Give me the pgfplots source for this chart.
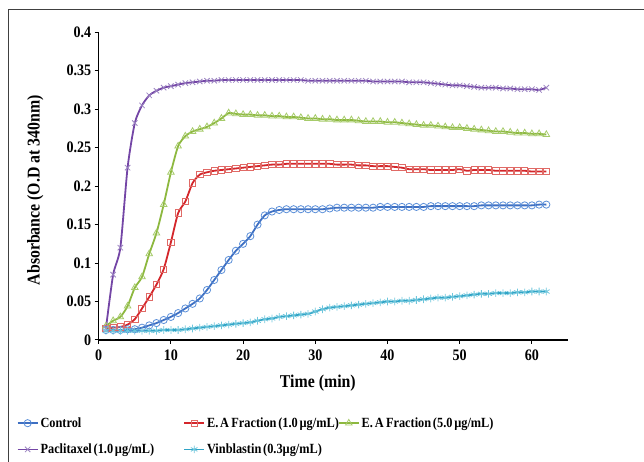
\documentclass[border=0pt]{standalone}
\usepackage{pgfplots}
\pgfplotsset{compat=1.18}
\usepackage{pgfplotstable}
\usepackage{fontspec}
\setmainfont{Liberation Serif}[FakeStretch=0.88]

\definecolor{cBl}{HTML}{3E6FC2}
\definecolor{cBlm}{HTML}{5B8FD8}
\definecolor{cRd}{HTML}{D4262B}
\definecolor{cRdm}{HTML}{E06A66}
\definecolor{cGr}{HTML}{8DB83F}
\definecolor{cGrm}{HTML}{A6CB6A}
\definecolor{cPu}{HTML}{7446A6}
\definecolor{cPum}{HTML}{9C84C2}
\definecolor{cCy}{HTML}{2FA3C6}
\definecolor{cCym}{HTML}{6EC6DC}

\newcommand\legfont{\bfseries\fontsize{14}{16}\selectfont\spaceskip=1.8pt\relax}

\pgfplotstableread{
x ctrl ea1 ea5 pac vin
1 0.013 0.015 0.018 0.015 0.012
2 0.013 0.016 0.025 0.085 0.012
3 0.013 0.017 0.030 0.120 0.012
4 0.014 0.020 0.044 0.224 0.012
5 0.014 0.027 0.068 0.282 0.012
6 0.016 0.041 0.082 0.305 0.012
7 0.019 0.056 0.112 0.318 0.012
8 0.022 0.072 0.139 0.324 0.012
9 0.026 0.092 0.176 0.328 0.013
10 0.030 0.127 0.218 0.330 0.013
11 0.035 0.165 0.252 0.332 0.013
12 0.041 0.180 0.265 0.334 0.014
13 0.047 0.204 0.271 0.335 0.015
14 0.054 0.215 0.274 0.336 0.016
15 0.065 0.218 0.277 0.337 0.017
16 0.078 0.220 0.282 0.337 0.018
17 0.091 0.221 0.288 0.338 0.019
18 0.104 0.222 0.295 0.338 0.020
19 0.116 0.223 0.294 0.338 0.021
20 0.125 0.224 0.293 0.338 0.022
21 0.135 0.225 0.293 0.338 0.023
22 0.150 0.226 0.292 0.338 0.025
23 0.162 0.227 0.292 0.338 0.027
24 0.167 0.228 0.291 0.338 0.028
25 0.169 0.228 0.291 0.338 0.030
26 0.170 0.229 0.290 0.338 0.031
27 0.170 0.229 0.290 0.338 0.032
28 0.170 0.229 0.289 0.338 0.033
29 0.170 0.229 0.288 0.337 0.034
30 0.170 0.229 0.288 0.337 0.037
31 0.170 0.229 0.287 0.337 0.040
32 0.171 0.229 0.287 0.337 0.042
33 0.172 0.228 0.286 0.337 0.043
34 0.172 0.228 0.286 0.337 0.044
35 0.172 0.228 0.286 0.337 0.045
36 0.172 0.227 0.285 0.337 0.046
37 0.172 0.227 0.284 0.337 0.047
38 0.172 0.226 0.284 0.336 0.048
39 0.173 0.226 0.284 0.336 0.049
40 0.173 0.226 0.283 0.336 0.050
41 0.173 0.225 0.283 0.336 0.050
42 0.173 0.224 0.282 0.336 0.051
43 0.173 0.222 0.281 0.335 0.051
44 0.173 0.222 0.280 0.335 0.052
45 0.173 0.222 0.279 0.335 0.053
46 0.174 0.221 0.279 0.334 0.054
47 0.174 0.221 0.278 0.333 0.055
48 0.174 0.221 0.277 0.332 0.055
49 0.174 0.221 0.276 0.331 0.056
50 0.174 0.222 0.276 0.331 0.057
51 0.174 0.220 0.275 0.330 0.058
52 0.174 0.221 0.274 0.329 0.059
53 0.175 0.221 0.273 0.328 0.060
54 0.175 0.221 0.272 0.328 0.060
55 0.175 0.220 0.271 0.328 0.061
56 0.175 0.220 0.271 0.327 0.061
57 0.175 0.220 0.270 0.327 0.061
58 0.175 0.220 0.269 0.326 0.062
59 0.175 0.220 0.269 0.326 0.062
60 0.175 0.219 0.268 0.326 0.063
61 0.176 0.219 0.268 0.325 0.063
62 0.176 0.219 0.267 0.328 0.063
}\datatable

\begin{document}
\begin{tikzpicture}
\useasboundingbox (0pt,0pt) rectangle (644pt,462pt);
\draw[line width=1pt, black!75] (8pt,0pt) -- (8pt,452pt) -- (644pt,452pt);
\begin{axis}[
  scale only axis,
  width=469.3pt, height=307.7pt,
  at={(98.7pt,122pt)}, anchor=south west,
  xmin=0, xmax=65, ymin=0, ymax=0.4,
  axis x line*=bottom, axis y line*=left,
  axis line style={line width=1.2pt, black},
  tick style={line width=1pt, black},
  tick align=outside, major tick length=4pt,
  xtick={0,10,20,30,40,50,60},
  ytick={0,0.05,0.1,0.15,0.2,0.25,0.3,0.35,0.4},
  /pgf/number format/assume math mode=true,
  yticklabel style={/pgf/number format/fixed, /pgf/number format/precision=2},
  tick label style={font=\bfseries\fontsize{16}{17}\selectfont, black},
  xticklabel style={yshift=-2pt},
  xlabel={Time (min)},
  ylabel={Absorbance (O.D at 340nm)},
  label style={font=\bfseries\fontsize{18}{20}\selectfont},
  xlabel style={at={(axis description cs:0.467,0)}, anchor=north, yshift=-31pt},
  ylabel style={at={(axis description cs:-0.135,0.487)}, anchor=center},
  clip=false,
  legend columns=3,
  legend cell align=left,
  legend style={at={(axis description cs:-0.175,-0.245)}, anchor=north west,
    draw=none, fill=none, font=\legfont,
    row sep=11pt, inner sep=0pt,
    /tikz/column 1/.style={column sep=0pt},
    /tikz/column 2/.style={column sep=27pt},
    /tikz/column 3/.style={column sep=0pt},
    /tikz/column 4/.style={column sep=-3pt},
    /tikz/column 5/.style={column sep=0pt}},
  legend image code/.code={
    \draw[mark repeat=2, mark phase=2, #1] plot coordinates {(0pt,0pt) (10pt,0pt) (20pt,0pt)};},
  every axis plot/.append style={line width=1.8pt, smooth, tension=0.4},
]
\addplot[cBl, mark=o, mark size=3.6pt, mark options={cBlm, line width=0.8pt}] table[x=x, y=ctrl] {\datatable};
\addlegendentry{Control}
\addplot[cRd, mark=square, mark size=3.2pt, mark options={cRdm, line width=0.8pt}] table[x=x, y=ea1] {\datatable};
\addlegendentry{E. A\,Fraction (1.0 µg/mL)}
\addplot[cGr, mark=triangle, mark size=3.8pt, mark options={cGrm, line width=0.8pt}] table[x=x, y=ea5] {\datatable};
\addlegendentry{E. A\,Fraction (5.0 µg/mL)}
\addplot[cPu, mark=x, mark size=3.8pt, mark options={cPum, line width=0.8pt}] table[x=x, y=pac] {\datatable};
\addlegendentry{Paclitaxel (1.0 µg/mL)}
\addplot[cCy, mark=asterisk, mark size=3.8pt, mark options={cCym, line width=0.8pt}] table[x=x, y=vin] {\datatable};
\addlegendentry{Vinblastin (0.3µg/mL)}
\end{axis}
\end{tikzpicture}
\end{document}
